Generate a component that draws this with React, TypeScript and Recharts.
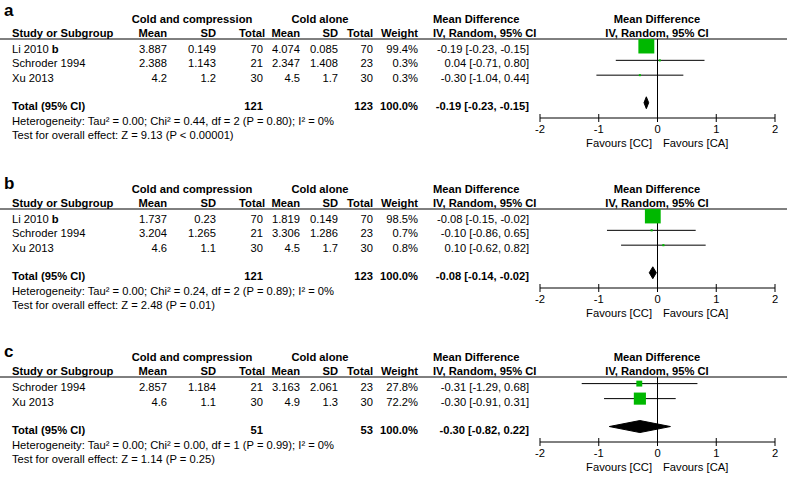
import { ComposedChart, Customized, ErrorBar, ReferenceLine, Scatter, XAxis, YAxis } from 'recharts';

const FONT = '"Liberation Sans", Arial, Helvetica, sans-serif';
const GREEN = '#00b800';
const FS = 11.2;

// panel a
const studiesA = ['Li 2010', 'Schroder 1994', 'Xu 2013'];
const notesA = ['b', '', ''];
const ccMeanA = [3.887, 2.388, 4.2];
const ccSdA = [0.149, 1.143, 1.2];
const ccNA = [70, 21, 30];
const caMeanA = [4.074, 2.347, 4.5];
const caSdA = [0.085, 1.408, 1.7];
const caNA = [70, 23, 30];
const weightA = [99.4, 0.3, 0.3];
const mdA = [-0.19, 0.04, -0.3];
const loA = [-0.23, -0.71, -1.04];
const hiA = [-0.15, 0.8, 0.44];
const pooledA = [-0.19, -0.23, -0.15];
const hetA = [0.0, 0.44, 2, 0.8, 0];
const testA = 'Z = 9.13 (P < 0.00001)';

// panel b
const studiesB = ['Li 2010', 'Schroder 1994', 'Xu 2013'];
const notesB = ['b', '', ''];
const ccMeanB = [1.737, 3.204, 4.6];
const ccSdB = [0.23, 1.265, 1.1];
const ccNB = [70, 21, 30];
const caMeanB = [1.819, 3.306, 4.5];
const caSdB = [0.149, 1.286, 1.7];
const caNB = [70, 23, 30];
const weightB = [98.5, 0.7, 0.8];
const mdB = [-0.08, -0.1, 0.1];
const loB = [-0.15, -0.86, -0.62];
const hiB = [-0.02, 0.65, 0.82];
const pooledB = [-0.08, -0.14, -0.02];
const hetB = [0.0, 0.24, 2, 0.89, 0];
const testB = 'Z = 2.48 (P = 0.01)';

// panel c
const studiesC = ['Schroder 1994', 'Xu 2013'];
const notesC = ['', ''];
const ccMeanC = [2.857, 4.6];
const ccSdC = [1.184, 1.1];
const ccNC = [21, 30];
const caMeanC = [3.163, 4.9];
const caSdC = [2.061, 1.3];
const caNC = [23, 30];
const weightC = [27.8, 72.2];
const mdC = [-0.31, -0.3];
const loC = [-1.29, -0.91];
const hiC = [0.68, 0.31];
const pooledC = [-0.3, -0.82, 0.22];
const hetC = [0.0, 0.0, 1, 0.99, 0];
const testC = 'Z = 1.14 (P = 0.25)';

const xTicks = [-2, -1, 0, 1, 2];

const panels = [
  { letter: 'a', top: 0, height: 170, axisY: 118, letterY: 16, studies: studiesA, notes: notesA, ccMean: ccMeanA, ccSd: ccSdA, ccN: ccNA, caMean: caMeanA, caSd: caSdA, caN: caNA, weight: weightA, md: mdA, lo: loA, hi: hiA, pooled: pooledA, het: hetA, test: testA },
  { letter: 'b', top: 170, height: 168, axisY: 118, letterY: 19, studies: studiesB, notes: notesB, ccMean: ccMeanB, ccSd: ccSdB, ccN: ccNB, caMean: caMeanB, caSd: caSdB, caN: caNB, weight: weightB, md: mdB, lo: loB, hi: hiB, pooled: pooledB, het: hetB, test: testB },
  { letter: 'c', top: 338, height: 139, axisY: 104, letterY: 19, studies: studiesC, notes: notesC, ccMean: ccMeanC, ccSd: ccSdC, ccN: ccNC, caMean: caMeanC, caSd: caSdC, caN: caNC, weight: weightC, md: mdC, lo: loC, hi: hiC, pooled: pooledC, het: hetC, test: testC },
];

const HL = 39; // header rule
const sum = (a: number[]) => a.reduce((s, v) => s + v, 0);
const fmtCI = (m: number, l: number, h: number) => `${m.toFixed(2)} [${l.toFixed(2)}, ${h.toFixed(2)}]`;

const Square = (props: any) => {
  const { cx, cy, payload } = props;
  const s = Math.max(2, 2 + (14 * payload.w) / 100);
  return <rect x={cx - s / 2} y={cy - s / 2} width={s} height={s} fill={GREEN} />;
};

const AxisTick = (props: any) => {
  const { x, y, payload } = props;
  return (
    <g>
      <line x1={x} x2={x} y1={y - 4} y2={y + 4} stroke="#000" />
      <text x={x} y={y + 15} textAnchor="middle" fontSize={FS} fontFamily={FONT} fill="#000">
        {payload.value}
      </text>
    </g>
  );
};

const T = ({ x, y, a = 'start', b = false, children }: any) => (
  <text x={x} y={y} textAnchor={a} fontSize={FS} fontFamily={FONT} fontWeight={b ? 'bold' : 'normal'} fill="#000">
    {children}
  </text>
);

function Panel({ p }: { p: (typeof panels)[number] }) {
  const n = p.studies.length;
  const yDomain = [-0.44, n + 1.89];
  const rowPx = (p.axisY - HL) / (yDomain[1] - yDomain[0]);
  const textY = (r: number) => HL + (r - yDomain[0]) * rowPx + 7;
  const totalRow = n + 0.86;

  const studyPts = p.studies.map((_, i) => ({
    x: p.md[i],
    y: i,
    err: [p.md[i] - p.lo[i], p.hi[i] - p.md[i]],
    w: p.weight[i],
  }));
  const [pm, pl, ph] = p.pooled;
  const diamond = [
    { x: pl, y: totalRow },
    { x: pm, y: totalRow - 0.4 },
    { x: ph, y: totalRow },
    { x: pm, y: totalRow + 0.4 },
    { x: pl, y: totalRow },
  ];
  const [tau, chi, df, pv, i2] = p.het;

  const table = () => (
    <g>
      <text x={4} y={p.letterY} fontSize={17} fontWeight="bold" fontFamily={FONT} fill="#000">{p.letter}</text>
      <line x1={0} x2={787} y1={HL} y2={HL} stroke="#000" />
      <T x={192} y={23} a="middle" b>Cold and compression</T>
      <T x={320} y={23} a="middle" b>Cold alone</T>
      <T x={433} y={23} b>Mean Difference</T>
      <T x={657} y={23} a="middle" b>Mean Difference</T>
      <T x={12} y={37} b>Study or Subgroup</T>
      <T x={167} y={37} a="end" b>Mean</T>
      <T x={216} y={37} a="end" b>SD</T>
      <T x={265} y={37} a="end" b>Total</T>
      <T x={300} y={37} a="end" b>Mean</T>
      <T x={338} y={37} a="end" b>SD</T>
      <T x={373} y={37} a="end" b>Total</T>
      <T x={418} y={37} a="end" b>Weight</T>
      <T x={433} y={37} b>IV, Random, 95% CI</T>
      <T x={657} y={37} a="middle" b>IV, Random, 95% CI</T>
      {p.studies.map((s, i) => (
        <g key={s}>
          <text x={12} y={textY(i)} fontSize={FS} fontFamily={FONT} fill="#000">
            {s}
            {p.notes[i] ? <tspan fontWeight="bold">{' ' + p.notes[i]}</tspan> : null}
          </text>
          <T x={167} y={textY(i)} a="end">{String(p.ccMean[i])}</T>
          <T x={216} y={textY(i)} a="end">{String(p.ccSd[i])}</T>
          <T x={263} y={textY(i)} a="end">{String(p.ccN[i])}</T>
          <T x={300} y={textY(i)} a="end">{String(p.caMean[i])}</T>
          <T x={338} y={textY(i)} a="end">{String(p.caSd[i])}</T>
          <T x={373} y={textY(i)} a="end">{String(p.caN[i])}</T>
          <T x={418} y={textY(i)} a="end">{p.weight[i].toFixed(1) + '%'}</T>
          <T x={529} y={textY(i)} a="end">{fmtCI(p.md[i], p.lo[i], p.hi[i])}</T>
        </g>
      ))}
      <T x={12} y={textY(totalRow)} b>Total (95% CI)</T>
      <T x={263} y={textY(totalRow)} a="end" b>{String(sum(p.ccN))}</T>
      <T x={373} y={textY(totalRow)} a="end" b>{String(sum(p.caN))}</T>
      <T x={418} y={textY(totalRow)} a="end" b>{sum(p.weight).toFixed(1) + '%'}</T>
      <T x={529} y={textY(totalRow)} a="end" b>{fmtCI(pm, pl, ph)}</T>
      <T x={12} y={textY(totalRow) + 15}>
        {`Heterogeneity: Tau² = ${tau.toFixed(2)}; Chi² = ${chi.toFixed(2)}, df = ${df} (P = ${pv.toFixed(2)}); I² = ${i2}%`}
      </T>
      <T x={12} y={textY(totalRow) + 29}>{`Test for overall effect: ${p.test}`}</T>
      <T x={652} y={p.axisY + 29} a="end">Favours [CC]</T>
      <T x={663} y={p.axisY + 29}>Favours [CA]</T>
    </g>
  );

  return (
    <div style={{ position: 'absolute', left: 0, top: p.top }}>
      <ComposedChart
        width={787}
        height={p.height}
        margin={{ top: HL, right: 12, left: 540, bottom: p.height - p.axisY - 30 }}
      >
        <XAxis
          type="number"
          dataKey="x"
          domain={[-2, 2]}
          ticks={xTicks}
          allowDataOverflow
          height={30}
          tickSize={0}
          tickMargin={0}
          tickLine={false}
          axisLine={{ stroke: '#000' }}
          tick={AxisTick}
        />
        <YAxis type="number" dataKey="y" domain={yDomain} reversed hide allowDataOverflow />
        <Customized component={table} />
        <ReferenceLine x={0} stroke="#000" />
        <Scatter
          data={diamond}
          isAnimationActive={false}
          line={{ stroke: '#000', fill: '#000', strokeWidth: 1 }}
          lineType="joint"
          shape={() => <g />}
        />
        <Scatter data={studyPts} isAnimationActive={false} shape={Square}>
          <ErrorBar dataKey="err" direction="x" width={0} stroke="#000" strokeWidth={1} isAnimationActive={false} />
        </Scatter>
      </ComposedChart>
    </div>
  );
}

export default function App() {
  return (
    <div style={{ position: 'absolute', left: 0, top: 0, width: 787, height: 477, background: '#fff' }}>
      {panels.map((p) => (
        <Panel key={p.letter} p={p} />
      ))}
    </div>
  );
}
